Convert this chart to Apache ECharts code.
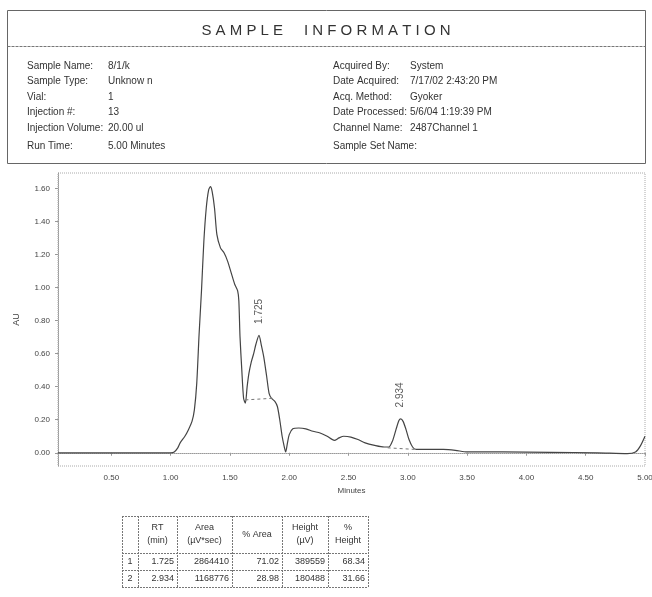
<!DOCTYPE html>
<html>
<head>
<meta charset="utf-8">
<script src="https://cdn.jsdelivr.net/npm/echarts@6/dist/echarts.min.js"></script>
<style>
html,body{margin:0;padding:0;background:#fff;}
#chart{width:652px;height:597px;}
</style>
</head>
<body>
<div id="chart"></div>
<script>
// ---------- DATA ----------
const headerTitle = 'S A M P L E     I N F O R M A T I O N';
const leftLabels = ['Sample Name:', 'Sample Type:', 'Vial:', 'Injection #:', 'Injection Volume:', 'Run Time:'];
const leftValues = ['8/1/k', 'Unknow n', '1', '13', '20.00 ul', '5.00 Minutes'];
const rightLabels = ['Acquired By:', 'Date Acquired:', 'Acq. Method:', 'Date Processed:', 'Channel Name:', 'Sample Set Name:'];
const rightValues = ['System', '7/17/02 2:43:20 PM', 'Gyoker', '5/6/04 1:19:39 PM', '2487Channel 1', ''];

const times = [0.05,0.50,1.00,1.03,1.06,1.08,1.12,1.15,1.18,1.20,1.22,1.24,1.26,1.28,1.30,1.32,1.335,1.35,1.37,1.39,1.42,1.45,1.48,1.51,1.54,1.565,1.575,1.585,1.60,1.615,1.63,1.645,1.66,1.68,1.70,1.72,1.745,1.765,1.785,1.81,1.83,1.85,1.88,1.90,1.92,1.94,1.96,1.97,1.985,2.00,2.03,2.08,2.14,2.20,2.26,2.32,2.38,2.42,2.46,2.52,2.58,2.64,2.72,2.80,2.84,2.87,2.90,2.925,2.94,2.96,2.985,3.01,3.04,3.07,3.15,3.30,3.40,3.50,3.80,4.20,4.60,4.85,4.92,4.96,5.00];
const absorbance = [0,0,0,0.005,0.03,0.06,0.10,0.14,0.19,0.26,0.42,0.72,0.98,1.28,1.48,1.59,1.61,1.58,1.48,1.32,1.24,1.21,1.16,1.09,1.02,0.98,0.92,0.70,0.50,0.33,0.30,0.40,0.48,0.55,0.60,0.66,0.71,0.65,0.58,0.46,0.36,0.33,0.31,0.28,0.20,0.10,0.03,0.005,0.06,0.11,0.145,0.15,0.145,0.13,0.12,0.10,0.075,0.09,0.10,0.095,0.08,0.06,0.045,0.035,0.035,0.07,0.14,0.195,0.205,0.19,0.14,0.08,0.035,0.02,0.02,0.02,0.015,0.005,0.005,0.003,0,-0.005,0.005,0.04,0.10];

const xTicks = [0.5,1.0,1.5,2.0,2.5,3.0,3.5,4.0,4.5,5.0];
const yTicks = [0,0.2,0.4,0.6,0.8,1.0,1.2,1.4,1.6];

const peakLabels = ['1.725', '2.934'];
const peakApexT = [1.745, 2.94];
const peakApexAU = [0.71, 0.205];

const baseline1T = [1.63, 1.865];
const baseline1AU = [0.32, 0.33];
const baseline2T = [2.83, 3.07];
const baseline2AU = [0.03, 0.02];

const tableHeader = ['', 'RT\n(min)', 'Area\n(µV*sec)', '% Area', 'Height\n(µV)', '%\nHeight'];
const tableRow1 = ['1', '1.725', '2864410', '71.02', '389559', '68.34'];
const tableRow2 = ['2', '2.934', '1168776', '28.98', '180488', '31.66'];

// ---------- LAYOUT / STYLE ----------
const FONT = 'Liberation Sans, Arial, sans-serif';
const TXT = '#333';
const graphics = [];

// header box
graphics.push({type:'rect', shape:{x:7.5,y:10.5,width:638,height:153}, style:{fill:'none', stroke:'#666', lineWidth:1}});
graphics.push({type:'line', shape:{x1:7.5,y1:46.5,x2:645.5,y2:46.5}, style:{stroke:'#777', lineWidth:1, lineDash:[3,1]}});
graphics.push({type:'text', x:326, y:31, style:{text:headerTitle, font:'15px ' + FONT, fill:'#333', textAlign:'center', textVerticalAlign:'middle'}});
const rowY = [66, 81.5, 97, 112.5, 128, 146];
leftLabels.forEach((s,i)=>{
  graphics.push({type:'text', x:27, y:rowY[i], style:{text:s, font:'10px ' + FONT, fill:TXT, textVerticalAlign:'middle'}});
  graphics.push({type:'text', x:108, y:rowY[i], style:{text:leftValues[i], font:'10px ' + FONT, fill:TXT, textVerticalAlign:'middle'}});
  graphics.push({type:'text', x:333, y:rowY[i], style:{text:rightLabels[i], font:'10px ' + FONT, fill:TXT, textVerticalAlign:'middle'}});
  graphics.push({type:'text', x:410, y:rowY[i], style:{text:rightValues[i], font:'10px ' + FONT, fill:TXT, textVerticalAlign:'middle'}});
});

// table
const colX = [122, 138, 177, 232, 282, 328, 368];
const rowLines = [516, 553, 570, 587];
colX.forEach(x=>graphics.push({type:'line', shape:{x1:x+0.5,y1:rowLines[0],x2:x+0.5,y2:rowLines[3]}, style:{stroke:'#777', lineWidth:1, lineDash:[2,1]}}));
rowLines.forEach(y=>graphics.push({type:'line', shape:{x1:colX[0],y1:y+0.5,x2:colX[6],y2:y+0.5}, style:{stroke:'#777', lineWidth:1, lineDash:[2,1]}}));
tableHeader.forEach((s,i)=>{
  graphics.push({type:'text', x:(colX[i]+colX[i+1])/2, y:(rowLines[0]+rowLines[1])/2, style:{text:s, font:'9px ' + FONT, fill:TXT, textAlign:'center', textVerticalAlign:'middle', lineHeight:13}});
});
[tableRow1, tableRow2].forEach((row,r)=>{
  const cy = (rowLines[r+1]+rowLines[r+2])/2;
  row.forEach((s,i)=>{
    if (i===0) {
      graphics.push({type:'text', x:(colX[0]+colX[1])/2, y:cy, style:{text:s, font:'9px ' + FONT, fill:TXT, textAlign:'center', textVerticalAlign:'middle'}});
    } else {
      graphics.push({type:'text', x:colX[i+1]-3, y:cy, style:{text:s, font:'9px ' + FONT, fill:TXT, textAlign:'right', textVerticalAlign:'middle'}});
    }
  });
});

const chart = echarts.init(document.getElementById('chart'), null, {renderer:'canvas'});
chart.setOption({
  animation:false,
  backgroundColor:'#fff',
  textStyle:{fontFamily:FONT},
  grid:{left:58, right:7, top:173, bottom:131, show:true, borderColor:'#aaa', borderWidth:1, borderType:'dotted',
        containLabel:false, outerBoundsMode:'none'},
  xAxis:{
    type:'value', min:0.05, max:5.0,
    name:'Minutes', nameLocation:'middle', nameGap:21,
    nameTextStyle:{fontSize:8, color:'#444'},
    axisLine:{show:true, lineStyle:{color:'#999', type:'dotted'}},
    axisTick:{show:true, length:3, customValues:xTicks, lineStyle:{color:'#999'}},
    axisLabel:{customValues:xTicks, formatter:v=>v.toFixed(2), fontSize:8, color:'#444', margin:8},
    splitLine:{show:false}
  },
  yAxis:{
    type:'value', min:-0.08, max:1.693,
    name:'AU', nameLocation:'middle', nameGap:37,
    nameTextStyle:{fontSize:9, color:'#444'},
    axisLine:{show:true, lineStyle:{color:'#999', type:'dotted'}},
    axisTick:{show:true, length:3, customValues:yTicks, lineStyle:{color:'#999'}},
    axisLabel:{customValues:yTicks, formatter:v=>v.toFixed(2), fontSize:8, color:'#444', margin:8},
    splitLine:{show:false}
  },
  series:[
    {type:'line', data:times.map((t,i)=>[t,absorbance[i]]), showSymbol:false, smooth:0.25,
     lineStyle:{color:'#444', width:1.2}, z:3},
    {type:'line', data:baseline1T.map((t,i)=>[t,baseline1AU[i]]), showSymbol:false,
     lineStyle:{color:'#777', width:1, type:[3,3]}},
    {type:'line', data:baseline2T.map((t,i)=>[t,baseline2AU[i]]), showSymbol:false,
     lineStyle:{color:'#777', width:1, type:[3,3]}},
    {type:'scatter', symbolSize:1, itemStyle:{color:'rgba(0,0,0,0)'},
     data:peakApexT.map((t,i)=>({value:[t,peakApexAU[i]], name:peakLabels[i]})),
     label:{show:true, position:'top', distance:11, rotate:90, align:'left', verticalAlign:'middle',
            formatter:p=>p.name, fontSize:10, color:'#333'}}
  ],
  graphic:graphics
});
</script>
</body>
</html>
